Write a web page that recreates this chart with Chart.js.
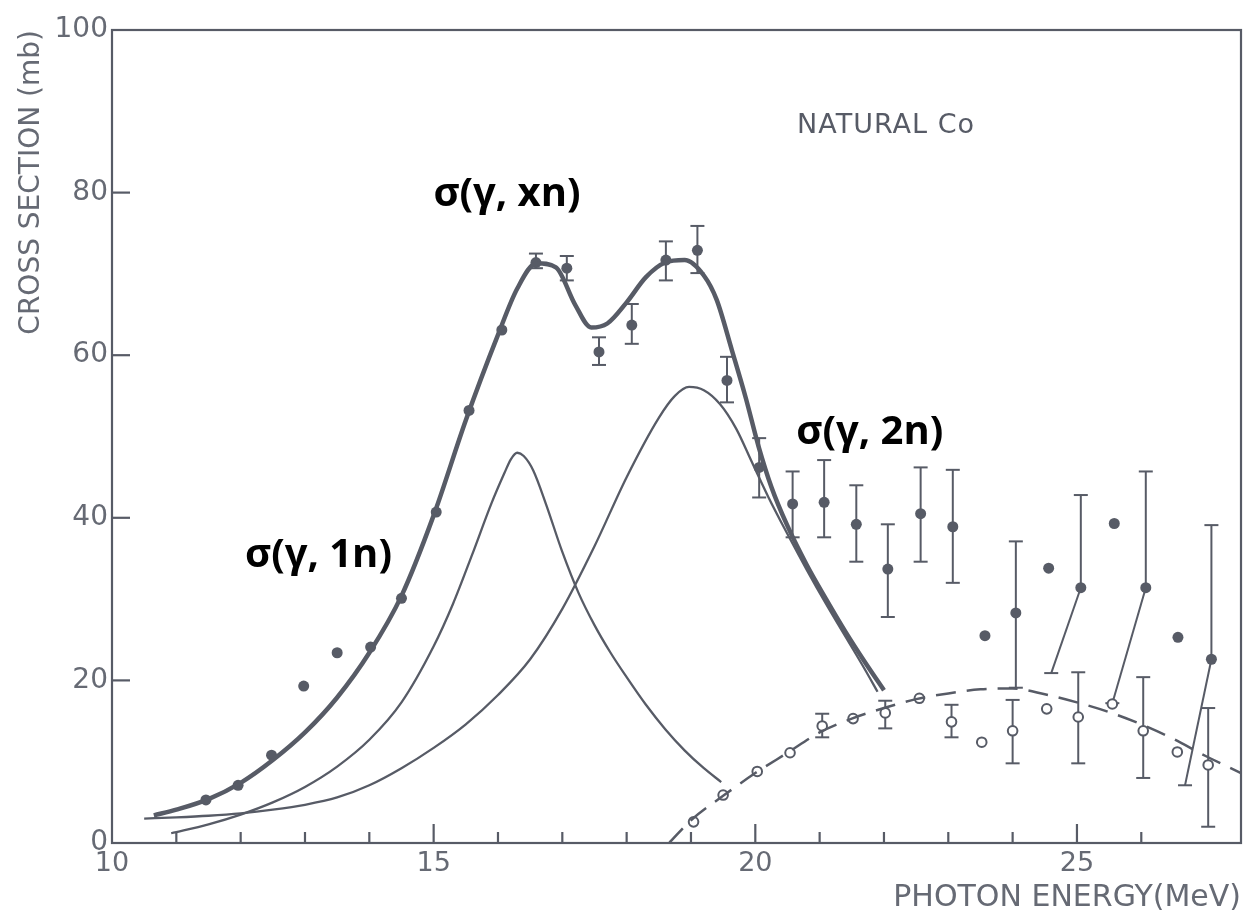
<!DOCTYPE html>
<html>
<head>
<meta charset="utf-8">
<script src="https://cdn.jsdelivr.net/npm/chart.js@4.4.1/dist/chart.umd.min.js"></script>
<style>
 html,body{margin:0;padding:0;background:#fff;}
</style>
</head>
<body>
<canvas id="chart_paper" width="1255" height="918"></canvas>
<script>
// fitted curves (MeV, mb)
var xnFitX=[10.65,11.0,11.5,12.0,12.5,13.0,13.5,14.0,14.5,15.0,15.5,16.0,16.3,16.6,16.9,17.2,17.45,17.7,18.0,18.3,18.6,18.9,19.2,19.4,19.64,19.85,20.05,20.25,20.5,20.8,21.1,21.4,21.7,22.0];
var xnFitY=[3.4,4.1,5.4,7.4,10.2,13.6,17.9,23.4,30.4,40.3,52.0,62.5,68.2,71.3,70.8,66.2,63.4,63.9,66.5,69.6,71.4,71.7,69.8,66.8,60.5,54.8,48.8,43.8,39.0,34.2,30.0,26.0,22.3,18.8];

var gdr1X=[10.92,11.5,12.0,12.5,13.0,13.5,14.0,14.5,15.0,15.3,15.6,15.9,16.1,16.2,16.3,16.4,16.55,16.75,17.0,17.25,17.5,17.75,18.0,18.3,18.6,18.9,19.2,19.47];
var gdr1Y=[1.2,2.3,3.5,5.0,6.9,9.4,12.7,17.3,24.2,29.4,35.5,41.8,45.5,47.2,48.0,47.6,45.8,41.6,35.8,30.8,26.8,23.4,20.4,17.0,14.0,11.4,9.2,7.5];

var gdr2X=[10.5,11.0,11.5,12.0,12.5,13.0,13.5,14.0,14.5,15.0,15.5,16.0,16.5,17.0,17.5,18.0,18.5,18.75,18.97,19.2,19.45,19.7,19.95,20.2,20.5,20.8,21.1,21.4,21.7,21.9];
var gdr2Y=[3.0,3.15,3.35,3.65,4.1,4.7,5.6,7.1,9.2,11.7,14.6,18.2,22.6,28.8,36.5,45.0,52.3,55.0,56.1,55.7,54.0,51.0,46.8,42.6,38.0,33.6,29.4,25.4,21.4,18.6];

var twoFitX=[18.66,19.0,19.5,20.0,20.5,21.0,21.5,22.0,22.5,23.0,23.5,24.0,24.5,25.0,25.5,26.0,26.5,27.0,27.55];
var twoFitY=[0,2.8,5.8,8.6,11.1,13.6,15.3,16.6,17.7,18.4,18.9,19.0,18.3,17.3,16.1,14.6,12.8,10.7,8.6];

// measured sigma(g,xn), filled points
var xnX=[11.46,11.96,12.48,12.98,13.5,14.02,14.5,15.04,15.55,16.06,16.59,17.07,17.57,18.08,18.61,19.1,19.56,20.06,20.58,21.07,21.57,22.06,22.57,23.07,23.57,24.05,24.56,25.06,25.58,26.07,26.57,27.09];
var xnY=[5.3,7.1,10.8,19.3,23.4,24.1,30.1,40.7,53.2,63.1,71.4,70.7,60.4,63.7,71.7,72.9,56.9,46.2,41.7,41.9,39.2,33.7,40.5,38.9,25.5,28.3,33.8,31.4,39.3,31.4,25.3,22.6];
var xnLo=[null,null,null,null,null,null,null,null,null,null,70.7,69.2,58.8,61.4,69.2,70.1,54.2,42.5,37.6,37.6,34.6,27.8,34.6,32.0,null,19.1,null,20.9,null,17.2,null,7.1];
var xnHi=[null,null,null,null,null,null,null,null,null,null,72.5,72.2,62.2,66.3,74.0,75.9,59.8,49.8,45.7,47.1,44.0,39.2,46.2,45.9,null,37.1,null,42.8,null,45.7,null,39.1];
var xnLoX=[null,null,null,null,null,null,null,null,null,null,null,null,null,null,null,null,null,null,null,null,null,null,null,null,null,null,null,24.6,null,25.55,null,26.68];

// measured sigma(g,2n), open points
var twoX=[19.04,19.5,20.03,20.54,21.04,21.52,22.02,22.55,23.05,23.52,24.0,24.53,25.02,25.55,26.03,26.56,27.04];
var twoY=[2.6,5.9,8.8,11.1,14.4,15.3,16.0,17.8,14.9,12.4,13.8,16.5,15.5,17.1,13.8,11.2,9.6];
var twoLo=[null,null,null,null,13.0,null,14.1,null,13.0,null,9.8,null,9.8,null,8.0,null,2.0];
var twoHi=[null,null,null,null,15.9,null,17.5,null,17.0,null,17.6,null,21.0,null,20.4,null,16.6];

var yTicks=[0,20,40,60,80,100];
var xLabels=[10,15,20,25];

var ink='#575b66';
var lightInk='#666a74';

function pts(X,Y){
 var out=[];
 for(var i=0;i<X.length;i++) out.push({x:X[i],y:Y[i]});
 return out;
}

function drawBars(ctx,xs,ys,X,Y,lo,hi,loX)
{
 for(var i=0;i<X.length;i++){
  var x=xs.getPixelForValue(X[i]);
  var y=ys.getPixelForValue(Y[i]);
  if(hi[i]!=null){
   var yh=ys.getPixelForValue(hi[i]);
   ctx.beginPath(); ctx.moveTo(x,y); ctx.lineTo(x,yh); ctx.stroke();
   ctx.beginPath(); ctx.moveTo(x-7,yh); ctx.lineTo(x+7,yh); ctx.stroke();
  }
  if(lo[i]!=null){
   var yl=ys.getPixelForValue(lo[i]);
   var x2=(loX&&loX[i]!=null)?xs.getPixelForValue(loX[i]):x;
   ctx.beginPath(); ctx.moveTo(x,y); ctx.lineTo(x2,yl); ctx.stroke();
   ctx.beginPath(); ctx.moveTo(x2-7,yl); ctx.lineTo(x2+7,yl); ctx.stroke();
  }
 }
}

var paperPlugin={
 id:'paper',
 beforeDatasetsDraw:function(chart){
  var ctx=chart.ctx,a=chart.chartArea,xs=chart.scales.x,ys=chart.scales.y;
  ctx.save();
  ctx.strokeStyle=ink;
  ctx.lineWidth=2.2;
  ctx.strokeRect(a.left,a.top,a.right-a.left,a.bottom-a.top);
  xs.ticks.forEach(function(t){
   if(t.value<=xs.min||t.value>=xs.max) return;
   var x=xs.getPixelForValue(t.value);
   var len=(t.value%5===0)?19:11;
   ctx.beginPath(); ctx.moveTo(x,a.bottom); ctx.lineTo(x,a.bottom-len); ctx.stroke();
  });
  ys.ticks.forEach(function(t){
   if(t.value<=ys.min||t.value>=ys.max) return;
   var y=ys.getPixelForValue(t.value);
   ctx.beginPath(); ctx.moveTo(a.left,y); ctx.lineTo(a.left+18,y); ctx.stroke();
  });
  ctx.lineWidth=2;
  drawBars(ctx,xs,ys,xnX,xnY,xnLo,xnHi,xnLoX);
  drawBars(ctx,xs,ys,twoX,twoY,twoLo,twoHi,null);
  ctx.restore();
 },
 afterDraw:function(chart){
  var ctx=chart.ctx,xs=chart.scales.x,ys=chart.scales.y;
  var notes=[
   {t:'\u03c3(\u03b3, xn)',x:16.14,y:79.7},
   {t:'\u03c3(\u03b3, 2n)',x:21.78,y:50.5},
   {t:'\u03c3(\u03b3, 1n)',x:13.21,y:35.4}
  ];
  ctx.save();
  ctx.fillStyle='#000';
  ctx.font='bold 40px "Open Sans"';
  ctx.textAlign='center';
  ctx.textBaseline='middle';
  notes.forEach(function(n){
   ctx.fillText(n.t,xs.getPixelForValue(n.x),ys.getPixelForValue(n.y));
  });
  ctx.fillStyle=ink;
  ctx.font='27px "DejaVu Sans"';
  ctx.letterSpacing='1px';
  ctx.textAlign='left';
  ctx.fillText('NATURAL Co',xs.getPixelForValue(20.65),ys.getPixelForValue(88.2));
  ctx.restore();
 }
};

var chart_obj=new Chart(document.getElementById('chart_paper'),{
 type:'scatter',
 data:{
  datasets:[
   {label:'xn fit',data:pts(xnFitX,xnFitY),showLine:true,borderColor:ink,borderWidth:4.5,pointRadius:0,cubicInterpolationMode:'monotone',fill:false},
   {label:'component 1',data:pts(gdr1X,gdr1Y),showLine:true,borderColor:ink,borderWidth:2.3,pointRadius:0,cubicInterpolationMode:'monotone',fill:false},
   {label:'component 2',data:pts(gdr2X,gdr2Y),showLine:true,borderColor:ink,borderWidth:2.3,pointRadius:0,cubicInterpolationMode:'monotone',fill:false},
   {label:'2n fit',data:pts(twoFitX,twoFitY),showLine:true,borderColor:ink,borderWidth:2.5,borderDash:[20,11],pointRadius:0,cubicInterpolationMode:'monotone',fill:false},
   {label:'sigma(g,xn)',data:pts(xnX,xnY),pointRadius:5.5,pointBackgroundColor:ink,pointBorderColor:ink,pointBorderWidth:0},
   {label:'sigma(g,2n)',data:pts(twoX,twoY),pointRadius:4.8,pointBackgroundColor:'#ffffff',pointBorderColor:ink,pointBorderWidth:2}
  ]
 },
 options:{
  responsive:false,
  animation:false,
  events:[],
  layout:{padding:{top:30,right:14,left:0,bottom:0}},
  plugins:{legend:{display:false},tooltip:{enabled:false}},
  scales:{
   x:{
    type:'linear',min:10,max:27.55,
    afterFit:function(s){s.height=75;},
    grid:{display:false,drawTicks:false},
    border:{display:false},
    ticks:{stepSize:1,autoSkip:false,maxRotation:0,padding:5,color:lightInk,font:{family:'DejaVu Sans',size:27},
     callback:function(v){return xLabels.indexOf(v)>=0?String(v):'';}},
    title:{display:true,text:'PHOTON ENERGY(MeV)',align:'end',color:lightInk,font:{family:'DejaVu Sans',size:30},padding:{top:0,bottom:2}}
   },
   y:{
    min:0,max:100,
    afterFit:function(s){s.width=112;},
    grid:{display:false,drawTicks:false},
    border:{display:false},
    ticks:{stepSize:20,padding:4,color:lightInk,font:{family:'DejaVu Sans',size:28},
     callback:function(v){return yTicks.indexOf(v)>=0?String(v):'';}},
    title:{display:true,text:'CROSS SECTION (mb)',align:'end',color:lightInk,font:{family:'DejaVu Sans',size:28},padding:{top:15,bottom:0}}
   }
  }
 },
 plugins:[paperPlugin]
});
</script>
</body>
</html>
